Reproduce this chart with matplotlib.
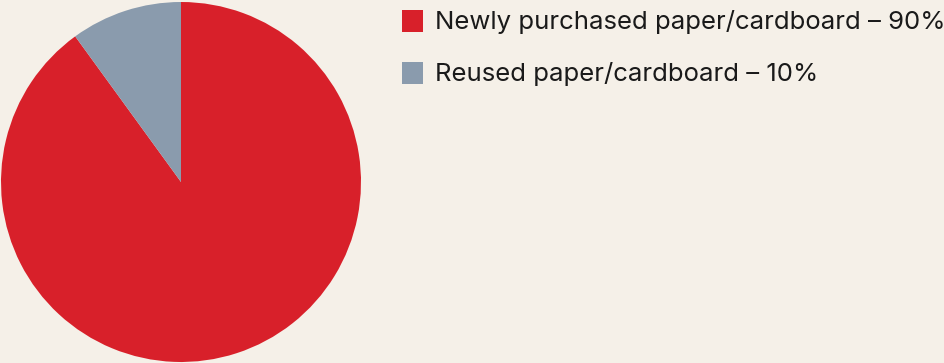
import matplotlib
matplotlib.use('Agg')
import matplotlib.pyplot as plt
from matplotlib.patches import Rectangle

# share of paper/cardboard sources
labels = ['Newly purchased paper/cardboard', 'Reused paper/cardboard']
shares = [90, 10]
colors = ['#D8202A', '#8A9BAD']
bg = '#F5F0E8'

W, H = 945, 363
fig = plt.figure(figsize=(W / 100, H / 100), dpi=100, facecolor=bg)

# pie axes: centre at (181, 182) px, radius 180 px
ax = fig.add_axes([1 / W, 1 - 362 / H, 360 / W, 360 / H])
ax.set_facecolor(bg)
ax.pie(shares, colors=colors, startangle=90, counterclock=False, radius=1,
       wedgeprops={'linewidth': 0})
ax.set_xlim(-1, 1)
ax.set_ylim(-1, 1)
ax.set_aspect('equal')
ax.axis('off')

# legend drawn by hand
for i, (lab, val, c) in enumerate(zip(labels, shares, colors)):
    yc = 21 + i * 52
    fig.patches.append(Rectangle((402 / W, 1 - (yc + 10.5) / H), 21 / W, 21 / H,
                                 transform=fig.transFigure, facecolor=c, edgecolor='none'))
    fig.text(435 / W, 1 - (yc + 1) / H, f'{lab} – {val}%', fontsize=18.5,
             family='Inter', color='#1a1a1a', va='center', ha='left')

fig.savefig('out.png', dpi=100, facecolor=bg)
